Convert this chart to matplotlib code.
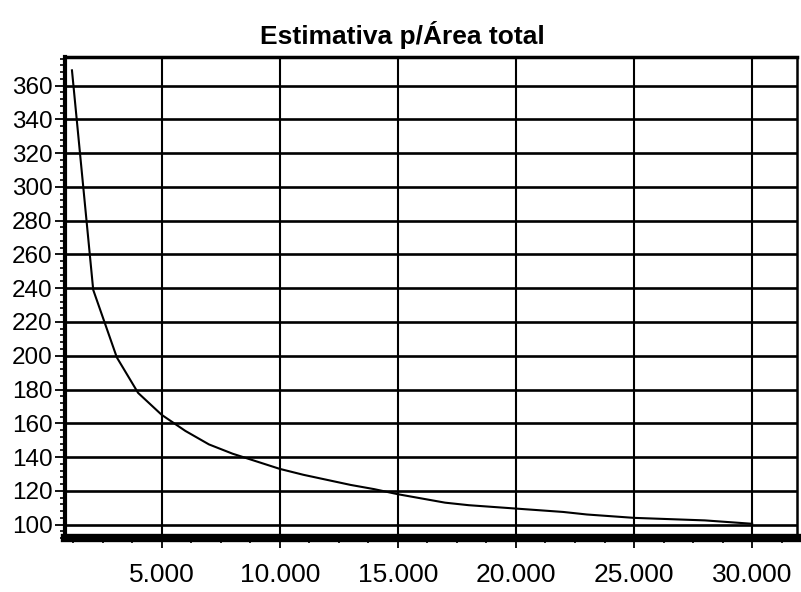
import matplotlib
matplotlib.use("Agg")
import matplotlib.pyplot as plt
from matplotlib.ticker import MultipleLocator, FuncFormatter

plt.rcParams['font.family'] = ['Liberation Sans', 'DejaVu Sans']

title = "Estimativa p/Área total"
area_x = [1200, 2100, 3100, 4000, 5000, 6000, 7000, 8000, 9000, 10000,
          11000, 12000, 13000, 14000, 15000, 16000, 17000, 18000, 19000, 20000,
          21000, 22000, 23000, 24000, 25000, 26000, 27000, 28000, 29000, 30000]
estimate_y = [369, 239, 199, 178, 165, 155.5, 147.5, 142, 137.5, 133,
              129.5, 126.5, 123.5, 121, 118, 115.5, 113, 111.5, 110.5, 109.5,
              108.5, 107.5, 106, 105, 104, 103.5, 103, 102.5, 101.5, 100.5]
x_ticks = [5000, 10000, 15000, 20000, 25000, 30000]
y_ticks = list(range(100, 361, 20))

fig = plt.figure(figsize=(8.01, 5.92), dpi=100)
ax = fig.add_axes([0.081, 0.091, 0.914, 0.813])

ax.plot(area_x, estimate_y, color='black', lw=1.5, zorder=3)

ax.set_xlim(900, 31900)
ax.set_ylim(92, 377)
ax.set_xticks(x_ticks)
ax.set_yticks(y_ticks)
ax.xaxis.set_minor_locator(MultipleLocator(1250))
ax.yaxis.set_minor_locator(MultipleLocator(4))
ax.xaxis.set_major_formatter(FuncFormatter(lambda v, p: f"{int(v):,}".replace(",", ".")))

ax.grid(True, which='major', axis='y', color='black', lw=1.9)
ax.grid(True, which='major', axis='x', color='black', lw=1.5)
ax.set_axisbelow(True)

ax.tick_params(axis='both', which='major', direction='out', length=7, width=1.3,
               colors='black')
ax.tick_params(axis='x', which='major', pad=11, labelsize=19)
ax.tick_params(axis='y', which='major', pad=2, labelsize=17.5)
ax.tick_params(axis='both', which='minor', direction='out', length=3.5, width=1.2)

ax.spines['left'].set_linewidth(3)
ax.spines['top'].set_linewidth(2.5)
ax.spines['bottom'].set_linewidth(6)
ax.spines['right'].set_linewidth(1.8)
for s in ax.spines.values():
    s.set_color('black')

fig.text(0.502, 0.941, title, ha='center', va='center', fontsize=19, fontweight='bold')

fig.savefig("out.png", dpi=100)
